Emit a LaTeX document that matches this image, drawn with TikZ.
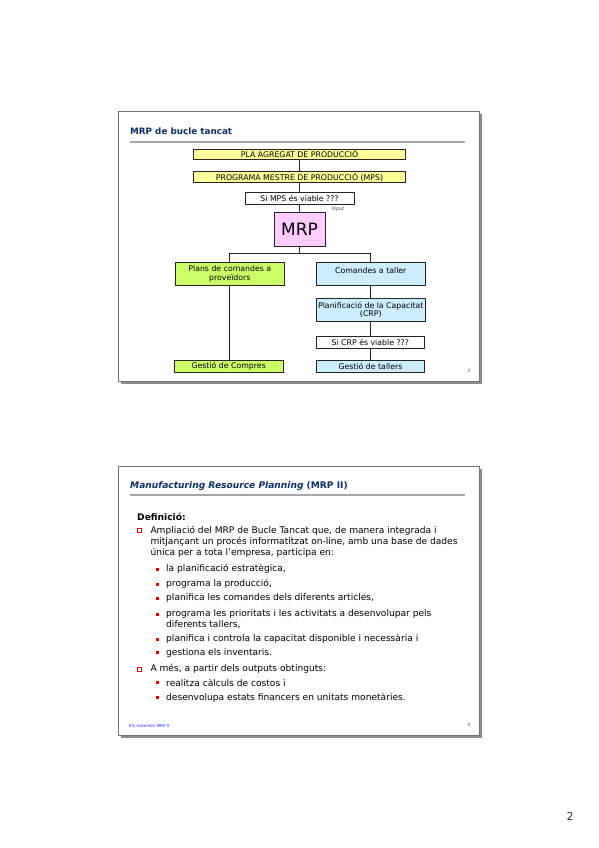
\documentclass[tikz,border=0pt]{standalone}
\usepackage{fontspec}
\setmainfont{DejaVu Sans}
\begin{document}
\begin{tikzpicture}[x=1pt,y=-1pt,
  fbox/.style={draw=black!85, line width=0.9pt, inner sep=0pt, align=center, font=\fontsize{7.8}{8.6}\selectfont},
  conn/.style={draw=black!85, line width=0.9pt},
  frame/.style={draw=black!55, line width=1pt, fill=white},
  shadow/.style={fill=black!45},
  rulel/.style={draw=black!35, line width=1.6pt},
  title/.style={anchor=west, inner sep=0pt, font=\fontsize{8.8}{10}\selectfont\bfseries, text=titleblue},
  body/.style={anchor=west, inner sep=0pt, font=\fontsize{9.1}{10}\selectfont},
  pnum/.style={inner sep=0pt, font=\fontsize{4.5}{5}\selectfont, text=black!70},
  hsq/.style={draw=bred, line width=0.9pt, minimum size=4pt, inner sep=0pt}
]
\definecolor{titleblue}{HTML}{0B2F6B}
\definecolor{yel}{HTML}{FFFF99}
\definecolor{grn}{HTML}{CCFF66}
\definecolor{lblue}{HTML}{CCECFF}
\definecolor{pnk}{HTML}{FFCCFF}
\definecolor{bred}{HTML}{E00000}
\useasboundingbox[fill=white] (0,0) rectangle (599,848);

% ---------- slide 1 ----------
\fill[shadow] (120.5,114) rectangle (481.5,383.5);
\draw[frame] (118.5,112) rectangle (479.5,381.5);
\node[title] (t1) at (130,131.7) {MRP de bucle tancat};
\draw[rulel] (130,141.7) -- (465,141.7);

\node[fbox, fill=yel, minimum width=212pt, minimum height=10.3pt] (b1) at (299.5,154.2) {PLA AGREGAT DE PRODUCCIÓ};
\node[fbox, fill=yel, minimum width=212pt, minimum height=11pt] (b2) at (299.5,177.2) {PROGRAMA MESTRE DE PRODUCCIÓ (MPS)};
\node[fbox, fill=white, minimum width=109pt, minimum height=11.6pt] (b3) at (299.5,198.5) {Si MPS és viable ???};
\node[inner sep=0pt, font=\fontsize{5}{5}\selectfont\itshape, text=black!70] (inp) at (338,209) {input};
\node[fbox, fill=pnk, minimum width=51pt, minimum height=34pt, font=\fontsize{17}{18}\selectfont] (mrp) at (299.5,229) {MRP};
\node[fbox, fill=grn, minimum width=109pt, minimum height=22.3pt] (pl) at (229.8,273.8) {Plans de comandes a\\proveïdors};
\node[fbox, fill=lblue, minimum width=109pt, minimum height=22.3pt, text depth=6pt] (ct) at (370.8,273.8) {Comandes a taller};
\node[fbox, fill=lblue, minimum width=109pt, minimum height=22.7pt] (crp) at (370.8,309.7) {Planificació de la Capacitat\\(CRP)};
\node[fbox, fill=white, minimum width=108pt, minimum height=12.3pt] (scrp) at (370.3,342.2) {Si CRP és viable ???};
\node[fbox, fill=grn, minimum width=108.7pt, minimum height=12pt] (gc) at (228.7,366) {Gestió de Compres};
\node[fbox, fill=lblue, minimum width=108.7pt, minimum height=12pt] (gt) at (370.5,366) {Gestió de tallers};
\node[pnum] (p3) at (468.7,370.7) {3};

\coordinate (j) at (299.5,253.3);
\draw[conn] (b1.south) -- (b2.north);
\draw[conn] (b2.south) -- (b3.north);
\draw[conn] (b3.south) -- (mrp.north);
\draw[conn] (mrp.south) -- (j);
\draw[conn] (j) -| (pl.north);
\draw[conn] (j) -| (ct.north);
\draw[conn] (pl.south) -- (pl.south |- gc.north);
\draw[conn] (ct.south) -- (ct.south |- crp.north);
\draw[conn] (crp.south) -- (crp.south |- scrp.north);
\draw[conn] (crp.south |- scrp.south) -- (crp.south |- gt.north);

% ---------- slide 2 ----------
\fill[shadow] (120.5,468.7) rectangle (481.5,737.7);
\draw[frame] (118.5,466.7) rectangle (479.5,735.7);
\node[title, font=\fontsize{9.1}{10}\selectfont\bfseries] (t2) at (130,485.7) {\itshape Manufacturing Resource Planning\/\upshape{} (MRP II)};
\draw[rulel] (130,495) -- (465,495);

\node[body, font=\fontsize{9.1}{10}\selectfont\bfseries] (def) at (137,516.7) {Definició:};

\node[hsq] (q1) at (139.7,530.7) {};
\node[body] (l1) at (150.3,530.7) {Ampliació del MRP de Bucle Tancat que, de manera integrada i};
\node[body] (l2) at (150.3,541.9) {mitjançant un procés informatitzat on-line, amb una base de dades};
\node[body] (l3) at (150.3,553.3) {única per a tota l’empresa, participa en:};

\foreach \yy in {569,584,598.3,614,639.3,652.7,682.7,697.3}{
  \fill[bred] (155.6,\yy-1.5) rectangle (158.6,\yy+1.5);
}
\node[body] (m1) at (166,569) {la planificació estratègica,};
\node[body] (m2) at (166,584) {programa la producció,};
\node[body] (m3) at (166,598.3) {planifica les comandes dels diferents articles,};
\node[body] (m4) at (166,614) {programa les prioritats i les activitats a desenvolupar pels};
\node[body] (m4b) at (166,624.8) {diferents tallers,};
\node[body] (m5) at (166,639.3) {planifica i controla la capacitat disponible i necessària i};
\node[body] (m6) at (166,652.7) {gestiona els inventaris.};

\node[hsq] (q2) at (139.7,669) {};
\node[body] (l4) at (150.3,669) {A més, a partir dels outputs obtinguts:};
\node[body] (m7) at (166,682.7) {realitza càlculs de costos i};
\node[body] (m8) at (166,697.3) {desenvolupa estats financers en unitats monetàries.};

\node[anchor=west, inner sep=0pt, font=\fontsize{4.2}{4.5}\selectfont, text=blue!85] (foot) at (129,726) {Els sistemes MRP II};
\node[pnum] (p4) at (468.7,724.5) {4};

\node[inner sep=0pt, font=\fontsize{11}{12}\selectfont, text=black!80] (p2) at (570,816) {2};
\end{tikzpicture}
\end{document}
